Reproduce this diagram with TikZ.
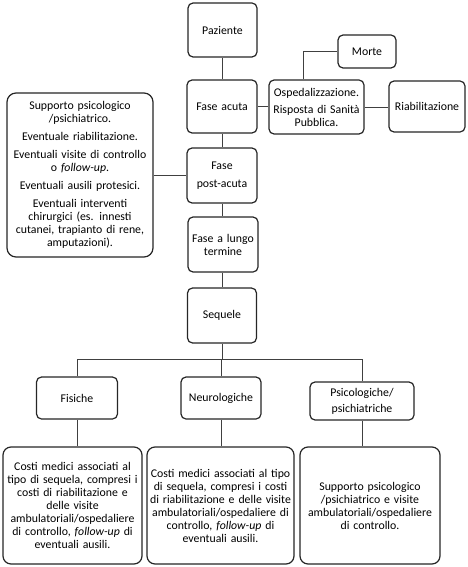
\documentclass[tikz,border=0pt]{standalone}
\usepackage{fontspec}
\setmainfont{Carlito}
\begin{document}
\begin{tikzpicture}[x=1pt,y=-1pt,
  box/.style={draw=black!85, line width=1.2pt, rounded corners=5pt, align=center,
    inner sep=1pt, fill=white, font=\fontsize{11.8}{13}\selectfont},
  bigbox/.style={box, rounded corners=9pt},
  conn/.style={draw=black!75, line width=0.9pt}]
\useasboundingbox (0,0) rectangle (467,567);
% top chain
\node[box, minimum width=69pt, minimum height=54pt, text width=67pt] (pat) at (222.5,30) {Paziente};
\node[box, minimum width=70pt, minimum height=53pt, text width=68pt] (acu) at (222,106.5) {Fase acuta};
\node[box, minimum width=58pt, minimum height=33pt, text width=56pt] (mor) at (367,51.5) {Morte};
\node[box, minimum width=95pt, minimum height=54pt, text width=93pt] (osp) at (316.5,107) {Ospedalizzazione.\\[4pt] Risposta di Sanità\\Pubblica.};
\node[box, minimum width=76pt, minimum height=51pt, text width=74pt] (ria) at (427,106.5) {Riabilitazione};
\node[box, minimum width=70pt, minimum height=55pt, text width=68pt] (pos) at (222,175.5) {Fase\\[5pt]post-acuta};
\node[bigbox, minimum width=146pt, minimum height=164pt, text width=144pt] (lef) at (80,175) {Supporto psicologico\\/psichiatrico.\\[5pt]
Eventuale riabilitazione.\\[5pt]
Eventuali visite di controllo\\o \textit{follow-up}.\\[5pt]
Eventuali ausili protesici.\\[5pt]
Eventuali interventi\\chirurgici (es. innesti\\cutanei, trapianto di rene,\\amputazioni).};
\node[box, minimum width=70pt, minimum height=55pt, text width=68pt] (lun) at (223,244.5) {Fase a lungo\\termine};
\node[box, minimum width=69pt, minimum height=55pt, text width=67pt] (seq) at (222,315.5) {Sequele};
% second level
\node[box, minimum width=81pt, minimum height=42pt, text width=79pt] (fis) at (77,398) {Fisiche};
\node[box, minimum width=80pt, minimum height=42pt, text width=78pt] (neu) at (221,398) {Neurologiche};
\node[box, minimum width=104pt, minimum height=38pt, text width=102pt] (psi) at (362,401) {Psicologiche/\\[3pt]psichiatriche};
% bottom boxes
\node[bigbox, rounded corners=8pt, minimum width=139pt, minimum height=117pt, text width=137pt] (b1) at (72.5,505.5) {Costi medici associati al\\tipo di sequela, compresi i\\costi di riabilitazione e\\delle visite\\ambulatoriali/ospedaliere\\di controllo, \textit{follow-up} di\\eventuali ausili.};
\node[bigbox, rounded corners=8pt, minimum width=147pt, minimum height=117pt, text width=145pt] (b2) at (220.5,505.5) {Costi medici associati al tipo\\di sequela, compresi i costi\\di riabilitazione e delle visite\\ambulatoriali/ospedaliere di\\controllo, \textit{follow-up} di\\eventuali ausili.};
\node[bigbox, rounded corners=8pt, minimum width=140pt, minimum height=117pt, text width=138pt] (b3) at (370,505.5) {Supporto psicologico\\/psichiatrico e visite\\ambulatoriali/ospedaliere\\di controllo.};
\coordinate (bus) at (222,359);
\coordinate (mj) at (303,51.5);
% connectors
\draw[conn] (pat.south) -- (pat.south |- acu.north);
\draw[conn] (acu.south) -- (acu.south |- pos.north);
\draw[conn] (pos.south) -- (pos.south |- lun.north);
\draw[conn] (lun.south -| pos.south) -- (pos.south |- seq.north);
\draw[conn] (seq.south) -- (seq.south |- bus);
\draw[conn] (acu.east) -- (acu.east -| osp.west);
\draw[conn] (osp.east) -- (osp.east -| ria.west);
\draw[conn] (mj |- osp.north) -- (mj) -- (mor.west);
\draw[conn] (lef.east |- pos.west) -- (pos.west);
\draw[conn] (fis.north |- bus) -- (psi.north |- bus);
\draw[conn] (fis.north |- bus) -- (fis.north);
\draw[conn] (neu.north |- bus) -- (neu.north);
\draw[conn] (psi.north |- bus) -- (psi.north);
\draw[conn] (fis.south) -- (fis.south |- b1.north);
\draw[conn] (neu.south) -- (neu.south |- b2.north);
\draw[conn] (psi.south) -- (psi.south |- b3.north);
\end{tikzpicture}
\end{document}
